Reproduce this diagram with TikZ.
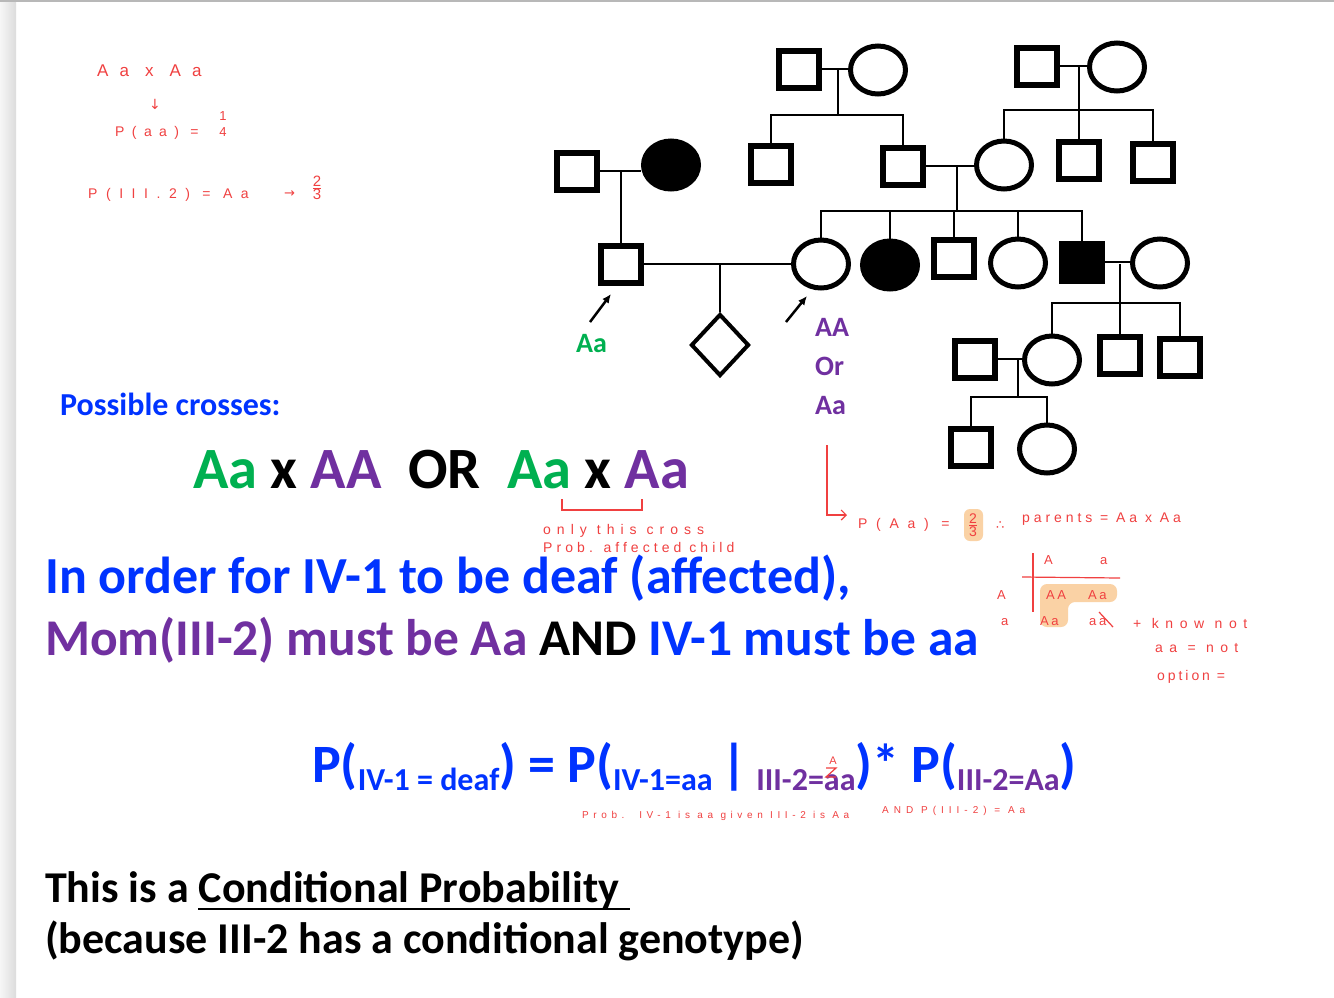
\documentclass[tikz,border=0pt]{standalone}
\usepackage{fontspec}
\setmainfont{Carlito}
\newfontfamily\hand{Liberation Sans}
\newfontfamily\dejavu{DejaVu Sans}
\usetikzlibrary{arrows.meta,shapes.geometric}
\definecolor{pblue}{RGB}{0,51,255}
\definecolor{ppurple}{RGB}{112,48,160}
\definecolor{pgreen}{RGB}{0,176,80}
\definecolor{hred}{RGB}{240,64,64}
\definecolor{hl}{RGB}{250,210,165}
\definecolor{stripL}{RGB}{246,246,246}
\definecolor{stripE}{RGB}{220,220,220}
\newcommand{\fs}[1]{\fontsize{#1}{#1}\selectfont}
\newcommand{\sbx}[1]{\raisebox{-8pt}{\fs{32}#1}}
\newcommand{\lsp}[1]{\addfontfeatures{LetterSpace=#1}}
\begin{document}
\begin{tikzpicture}[x=1pt,y=-1pt,
  male/.style={draw,line width=6pt,minimum width=40pt,minimum height=37pt,inner sep=0pt},
  female/.style={draw,ellipse,line width=5pt,minimum width=55pt,minimum height=48pt,inner sep=0pt},
  aff/.style={fill=black},
  unk/.style={draw,diamond,line width=4pt,minimum width=58pt,minimum height=62pt,inner sep=0pt},
  ln/.style={line width=2pt},
  pointer/.style={line width=2.5pt,-{Latex[length=9pt,width=8pt]}},
  big/.style={anchor=base west,inner sep=0pt,font=\bfseries},
  lbl/.style={anchor=base west,inner sep=0pt,font=\bfseries\fs{28}},
  note/.style={anchor=base west,inner sep=0pt,text=hred,font=\hand\fs{14}},
  hline/.style={hred,line width=1.2pt}]
\useasboundingbox (0,0) rectangle (1334,997);
\fill[white] (0,0) rectangle (1334,997);
\shade[left color=stripL,right color=stripE] (0,0) rectangle (16,997);
\fill[black!28] (0,0) rectangle (1334,1.5);

% ---------- pedigree ----------
\node[male] (I1) at (799,69) {};
\node[female] (I2) at (878,70) {};
\node[male] (I3) at (1037,66) {};
\node[female] (I4) at (1117,67) {};

\node[male] (II0) at (577,171) {};
\node[female,aff] (II1) at (671,165) {};
\node[male] (II2) at (771,164) {};
\node[male] (II3) at (903,166) {};
\node[female] (II4) at (1004,165) {};
\node[male] (II5) at (1079,160) {};
\node[male] (II6) at (1153,162) {};

\node[male] (III1) at (621,264) {};
\node[female] (III2) at (821,264) {};
\node[female,aff] (III3) at (890,265) {};
\node[male] (III4) at (954,258) {};
\node[female] (III5) at (1018,263) {};
\node[male,aff] (III6) at (1082,262) {};
\node[female] (III7) at (1160,263) {};

\node[unk] (IVx) at (720,345) {};
\node[male] (IV1) at (975,359) {};
\node[female] (IV2) at (1052,360) {};
\node[male] (IV3) at (1120,355) {};
\node[male] (IV4) at (1180,357) {};

\node[male] (V1) at (971,447) {};
\node[female] (V2) at (1047,449) {};

% couples and sibships
\coordinate (d1) at (838,69);  \coordinate (s1) at (838,115);
\draw[ln] (I1.east) -- (I1.east -| I2.west);
\draw[ln] (d1) -- (s1);
\draw[ln] (II2.north) |- (s1) -| (II3.north);

\coordinate (d2) at (1079,66); \coordinate (s2) at (1079,110);
\draw[ln] (I3.east) -- (I3.east -| I4.west);
\draw[ln] (d2) -- (II5.north);
\draw[ln] (II4.north) |- (s2) -| (II6.north);

\coordinate (d3) at (621,171);
\draw[ln] (II0.east) -- (II0.east -| II1.west);
\draw[ln] (d3) -- (III1.north);

\coordinate (d4) at (957,166); \coordinate (s4) at (957,211);
\draw[ln] (II3.east) -- (II3.east -| II4.west);
\draw[ln] (d4) -- (s4);
\draw[ln] (III2.north) |- (s4) -| (III6.north);
\draw[ln] (III3.north) -- (III3.north |- s4);
\draw[ln] (III4.north) -- (III4.north |- s4);
\draw[ln] (III5.north) -- (III5.north |- s4);

\coordinate (d5) at (720,264);
\draw[ln] (III1.east) -- (III1.east -| III2.west);
\draw[ln] (d5) -- (IVx.north);

\coordinate (d6) at (1120,264); \coordinate (s6) at (1120,303);
\draw[ln] (III6.east) -- (III6.east -| III7.west);
\draw[ln] (d6) -- (IV3.north);
\draw[ln] (IV2.north) |- (s6) -| (IV4.north);

\coordinate (d7) at (1018,360); \coordinate (s7) at (1018,397);
\draw[ln] (IV1.east) -- (IV1.east -| IV2.west);
\draw[ln] (d7) -- (s7);
\draw[ln] (V1.north) |- (s7) -| (V2.north);

% proband arrows
\coordinate (p1s) at (590,322); \coordinate (p1e) at (611,294);
\coordinate (p2s) at (786,322); \coordinate (p2e) at (807,296);
\draw[pointer] (p1s) -- (p1e);
\draw[pointer] (p2s) -- (p2e);

% genotype labels
\node[lbl,text=pgreen] (gAa) at (576,352) {Aa};
\node[lbl,text=ppurple] (gAA) at (815,336) {AA};
\node[lbl,text=ppurple] (gOr) at (815,375) {Or};
\node[lbl,text=ppurple] (gAa2) at (815,414) {Aa};

% ---------- printed text ----------
\node[big,text=pblue,font=\bfseries\fs{32}] (poss) at (60,415) {Possible crosses:};
\node[big,font=\bfseries\fs{58.5}] (cross) at (193,488)
  {\color{pgreen}Aa \color{black}x \color{ppurple}AA\ \ \color{black}OR\ \ \color{pgreen}Aa \color{black}x \color{ppurple}Aa};
\node[big,text=pblue,font=\bfseries\fs{52}] (l1) at (45,593) {In order for IV-1 to be deaf (affected),};
\node[big,font=\bfseries\fs{51.5}] (l2) at (45,655)
  {\color{ppurple}Mom(III-2) must be Aa \color{black}AND \color{pblue}IV-1 must be aa};
\node[big,text=pblue,font=\bfseries\fs{54}] (form) at (312,782)
  {P(\sbx{IV-1 = deaf}) = P(\sbx{IV-1=aa}\,|\,\sbx{\color{ppurple}III-2=aa})* P(\sbx{\color{ppurple}III-2=Aa})};
\node[big,font=\bfseries\fs{44}] (c1) at (45,902) {This is a Conditional Probability};
\draw[line width=2.5pt] (198,909) -- (630,909);
\node[big,font=\bfseries\fs{44}] (c2) at (45,953) {(because III-2 has a conditional genotype)};

% ---------- handwritten notes ----------
\node[note,font=\hand\fs{17}\lsp{66}] (h1) at (97,76) {Aa x Aa};
\node[note,font=\dejavu\fs{14}] (h2) at (149,109) {↓};
\node[note,font=\hand\fs{14}\lsp{53}] (h3) at (115,136) {P(aa) =};
\node[text=hred,font=\hand\fs{13},inner sep=0pt] (h4a) at (223,116) {1};
\node[text=hred,font=\hand\fs{13},inner sep=0pt] (h4b) at (223,132) {4};
\node[note,font=\hand\fs{14}\lsp{61}] (h5) at (88,198) {P(III.2) = Aa};
\node[note,font=\dejavu\fs{13}] (h6) at (284,197) {→};
\node[text=hred,font=\hand\fs{15},inner sep=0pt] (h7) at (317,188) {$\frac{\mbox{2}}{\mbox{3}}$};

\draw[hline] (562,499) -- (562,510) -- (642,510) -- (642,499);
\node[note,font=\hand\fs{14}\lsp{43}] (h8) at (543,534) {only this cross};
\node[note,font=\hand\fs{14}\lsp{29}] (h9) at (543,552) {Prob. affected child};

\coordinate (r1) at (827,445); \coordinate (r2) at (827,515); \coordinate (r3) at (847,515);
\draw[hline,-{Straight Barb[length=5pt]}] (r1) -- (r2) -- (r3);
\node[note,font=\hand\fs{14}\lsp{62}] (h10) at (858,528) {P(Aa) =};
\fill[hl,rounded corners=6pt] (964,509) rectangle (983,541);
\node[text=hred,font=\hand\fs{14},inner sep=0pt] (h11) at (973,525) {$\frac{\mbox{2}}{\mbox{3}}$};
\node[note,font=\dejavu\fs{13}] (h12) at (996,529) {∴};
\node[note,font=\hand\fs{14}\lsp{28}] (h13) at (1022,522) {parents = Aa x Aa};

% punnett square
\fill[hl,rounded corners=7pt] (1040,584) -- (1117,584) -- (1117,602) -- (1068,602) -- (1068,627) -- (1040,627) -- cycle;
\draw[hline] (1033,553) -- (1033,612);
\draw[hline] (1022,577) -- (1120,578);
\node[note,font=\hand\fs{13}] (pA) at (1044,564) {A};
\node[note,font=\hand\fs{13}] (pa) at (1100,564) {a};
\node[note,font=\hand\fs{13}] (pA2) at (997,599) {A};
\node[note,font=\hand\fs{13}] (pa2) at (1001,625) {a};
\node[note,font=\hand\fs{13}\lsp{20}] (pAA) at (1046,599) {AA};
\node[note,font=\hand\fs{13}\lsp{20}] (pAa) at (1088,599) {Aa};
\node[note,font=\hand\fs{13}\lsp{20}] (pAa2) at (1040,625) {Aa};
\node[note,font=\hand\fs{13}\lsp{20}] (paa) at (1089,625) {aa};
\draw[hline] (1099,612) -- (1113,627);
\node[note,font=\hand\fs{14}\lsp{47}] (h14) at (1133,628) {+ know not};
\node[note,font=\hand\fs{14}\lsp{46}] (h15) at (1155,652) {aa = not};
\node[note,font=\hand\fs{14}\lsp{21}] (h16) at (1157,680) {option =};

% formula annotations
\node[text=hred,font=\hand\fs{11},inner sep=0pt] (h17) at (833,761) {A};
\draw[hred,line width=1.2pt] (826,768) -- (836,768) -- (826,777) -- (836,777);
\node[note,font=\hand\fs{10}\lsp{46}] (h18) at (582,818) {Prob.\ \ IV-1 is aa given III-2 is Aa};
\node[note,font=\hand\fs{10}\lsp{50}] (h19) at (882,813) {AND P(III-2) = Aa};
\end{tikzpicture}
\end{document}
